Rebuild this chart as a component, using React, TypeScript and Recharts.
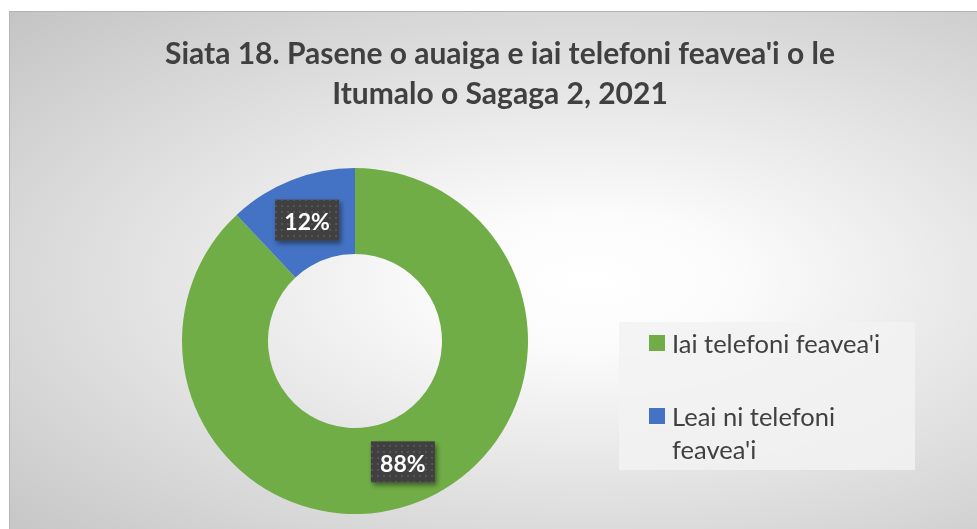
import { PieChart, Pie, Cell, Legend } from 'recharts';

const categories = ["Iai telefoni feavea'i", "Leai ni telefoni feavea'i"];
const shares = [88, 12];
const sliceColors = ['#70ad47', '#4472c4'];

const titleLines = ["Siata 18. Pasene o auaiga e iai telefoni feavea'i o le", 'Itumalo o Sagaga 2, 2021'];

const data = categories.map((name, i) => ({ name, value: shares[i] }));

const FONT = 'Lato, "Open Sans", sans-serif';
const RAD = Math.PI / 180;

// dark boxed data label placed in the middle of the ring
const renderLabel = (props: any) => {
  const { cx, cy, midAngle, innerRadius, outerRadius, value } = props;
  const r = (innerRadius + outerRadius) / 2;
  const x = cx + r * Math.cos(-midAngle * RAD);
  const y = cy + r * Math.sin(-midAngle * RAD);
  const w = 64;
  const h = 41;
  return (
    <g>
      <rect x={x - w / 2} y={y - h / 2} width={w} height={h} fill="#3f3f3f" filter="url(#lblShadow)" />
      <rect x={x - w / 2} y={y - h / 2} width={w} height={h} fill="url(#dots)" />
      <text
        x={x}
        y={y + 1}
        textAnchor="middle"
        dominantBaseline="central"
        fill="#ffffff"
        fontFamily={FONT}
        fontWeight={700}
        fontSize={23}
      >
        {value}%
      </text>
    </g>
  );
};

const renderLegend = () => (
  <div style={{ width: 296, height: 148, background: 'rgba(242,242,242,0.85)', position: 'relative', fontFamily: FONT }}>
    {categories.map((name, i) => (
      <div key={name} style={{ position: 'absolute', left: 30, top: i === 0 ? 5 : 78 }}>
        <div style={{ position: 'absolute', left: 0, top: 8, width: 16, height: 16, background: sliceColors[i] }} />
        <div style={{ marginLeft: 23, width: 228, fontSize: 25.5, lineHeight: '33px', color: '#404040' }}>{name}</div>
      </div>
    ))}
  </div>
);

export default function App() {
  return (
    <div
      style={{
        position: 'fixed',
        left: 9,
        top: 11,
        width: 968,
        height: 518,
        boxSizing: 'border-box',
        borderTop: '1px solid #b4b4b4',
        borderLeft: '1px solid #b4b4b4',
        background: 'radial-gradient(ellipse farthest-corner at 60% 52%, #ffffff 0%, #fbfbfb 18%, #c4c4c4 100%)',
        overflow: 'hidden',
      }}
    >
      <div
        style={{
          position: 'absolute',
          left: 0,
          top: 20,
          width: 980,
          textAlign: 'center',
          fontFamily: FONT,
          fontWeight: 700,
          fontSize: 30,
          lineHeight: '40px',
          color: '#404040',
        }}
      >
        {titleLines.map((t) => (
          <div key={t}>{t}</div>
        ))}
      </div>
      <div style={{ position: 'absolute', left: -1, top: -1 }}>
        <PieChart width={968} height={518}>
          <defs>
            <filter id="lblShadow" x="-20%" y="-20%" width="150%" height="160%">
              <feDropShadow dx="2" dy="3" stdDeviation="2.5" floodColor="#000000" floodOpacity="0.45" />
            </filter>
            <pattern id="dots" width="6" height="6" patternUnits="userSpaceOnUse">
              <circle cx="3" cy="3" r="1" fill="#5a5a5a" />
            </pattern>
          </defs>
          <Pie
            data={data}
            dataKey="value"
            nameKey="name"
            cx={341}
            cy={325}
            innerRadius={87}
            outerRadius={173}
            startAngle={90}
            endAngle={-270}
            stroke="none"
            label={renderLabel}
            labelLine={false}
            isAnimationActive={false}
          >
            {data.map((d, i) => (
              <Cell key={d.name} fill={sliceColors[i]} />
            ))}
          </Pie>
          <Legend
            content={renderLegend}
            wrapperStyle={{ position: 'absolute', left: 610, top: 311, width: 296, height: 148 }}
          />
        </PieChart>
      </div>
    </div>
  );
}
